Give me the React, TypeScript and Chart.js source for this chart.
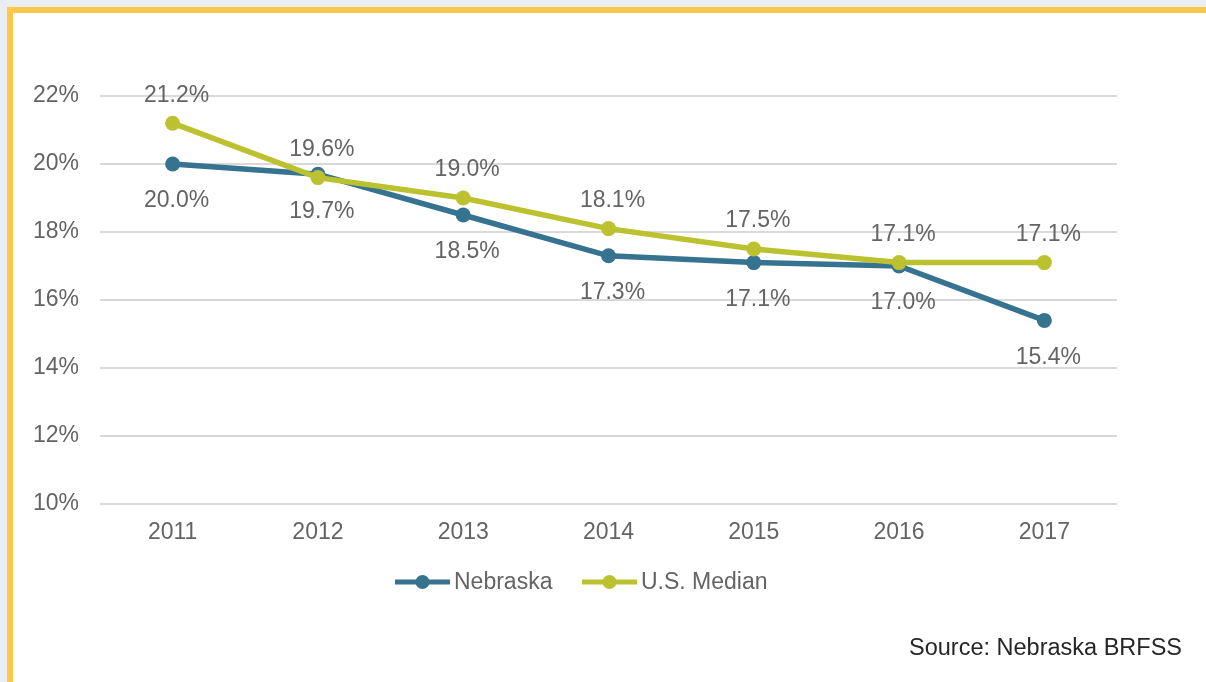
import React, { useEffect, useRef } from "react";
import { Chart, registerables } from "chart.js";

Chart.register(...registerables);

const years = ["2011", "2012", "2013", "2014", "2015", "2016", "2017"];
const nebraska = [20.0, 19.7, 18.5, 17.3, 17.1, 17.0, 15.4];
const usMedian = [21.2, 19.6, 19.0, 18.1, 17.5, 17.1, 17.1];
const seriesNames = ["Nebraska", "U.S. Median"];
const yTicks = [10, 12, 14, 16, 18, 20, 22];
const sourceText = "Source: Nebraska BRFSS";

const BLUE = "#367391";
const OLIVE = "#bcc12f";
const TEXT = "#646464";
const FONT = "'Liberation Sans', Arial, sans-serif";

const labelPlugin = {
  id: "customLabels",
  afterDatasetsDraw(chart: any) {
    const ctx = chart.ctx;
    ctx.save();
    ctx.font = `23px ${FONT}`;
    ctx.fillStyle = TEXT;
    ctx.textAlign = "center";
    ctx.textBaseline = "middle";
    const offsets = [37, -28];
    chart.data.datasets.forEach((ds: any, di: number) => {
      const meta = chart.getDatasetMeta(di);
      const off = ds.label === seriesNames[0] ? offsets[0] : offsets[1];
      meta.data.forEach((pt: any, i: number) => {
        ctx.fillText(ds.data[i].toFixed(1) + "%", pt.x + 4, pt.y + off);
      });
    });
    // legend
    const items = [
      { name: seriesNames[0], color: BLUE, x: 395 },
      { name: seriesNames[1], color: OLIVE, x: 582 },
    ];
    const ly = 582;
    items.forEach((it) => {
      ctx.strokeStyle = it.color;
      ctx.lineWidth = 5;
      ctx.beginPath();
      ctx.moveTo(it.x, ly);
      ctx.lineTo(it.x + 55, ly);
      ctx.stroke();
      ctx.fillStyle = it.color;
      ctx.beginPath();
      ctx.arc(it.x + 27.5, ly, 7, 0, Math.PI * 2);
      ctx.fill();
      ctx.fillStyle = TEXT;
      ctx.textAlign = "left";
      ctx.fillText(it.name, it.x + 59, ly + 1);
    });
    ctx.restore();
  },
};

export default function App() {
  const ref = useRef<HTMLCanvasElement>(null);
  useEffect(() => {
    document.body.style.margin = "0";
    const chart = new Chart(ref.current!, {
      type: "line",
      data: {
        labels: years,
        datasets: [
          {
            label: seriesNames[0],
            data: nebraska,
            borderColor: BLUE,
            backgroundColor: BLUE,
            borderWidth: 5.5,
            pointRadius: 7.5,
            pointBorderWidth: 0,
            pointBackgroundColor: BLUE,
            tension: 0,
            order: 2,
          },
          {
            label: seriesNames[1],
            data: usMedian,
            borderColor: OLIVE,
            backgroundColor: OLIVE,
            borderWidth: 5.5,
            pointRadius: 7.5,
            pointBorderWidth: 0,
            pointBackgroundColor: OLIVE,
            tension: 0,
            order: 1,
          },
        ],
      },
      options: {
        animation: false,
        responsive: false,
        maintainAspectRatio: false,
        layout: { padding: { left: 0, top: 96, right: 89, bottom: 138 } },
        plugins: { legend: { display: false }, tooltip: { enabled: false } },
        scales: {
          x: {
            offset: true,
            grid: { display: false, drawTicks: false },
            border: { display: false },
            ticks: { color: TEXT, font: { family: FONT, size: 23 }, padding: 15 },
            afterFit: (s: any) => {
              s.height = 40;
            },
          },
          y: {
            min: 10,
            max: 22,
            afterBuildTicks: (s: any) => {
              s.ticks = yTicks.map((v) => ({ value: v }));
            },
            grid: { color: "#d9d9d9", lineWidth: 2, drawTicks: false },
            border: { display: false },
            ticks: {
              color: TEXT,
              font: { family: FONT, size: 23 },
              padding: 21,
              callback: (v: any) => v + "%",
            },
            afterFit: (s: any) => {
              s.width = 100;
            },
          },
        },
      },
      plugins: [labelPlugin],
    });
    return () => chart.destroy();
  }, []);

  return (
    <div
      style={{
        position: "relative",
        width: 1206,
        height: 682,
        overflow: "hidden",
        background: "#eaeef2",
      }}
    >
      <div
        style={{
          position: "absolute",
          left: 7,
          top: 7,
          width: 1250,
          height: 720,
          background: "#ffffff",
          borderTop: "6px solid #ffc84a",
          borderLeft: "6px solid #ffc84a",
        }}
      />
      <canvas
        ref={ref}
        width={1206}
        height={682}
        style={{ position: "absolute", left: 0, top: 0, width: 1206, height: 682 }}
      />
      <div
        style={{
          position: "absolute",
          right: 24,
          top: 632,
          fontFamily: FONT,
          fontSize: 23.5,
          color: "#262626",
          lineHeight: "30px",
          whiteSpace: "nowrap",
        }}
      >
        {sourceText}
      </div>
    </div>
  );
}
